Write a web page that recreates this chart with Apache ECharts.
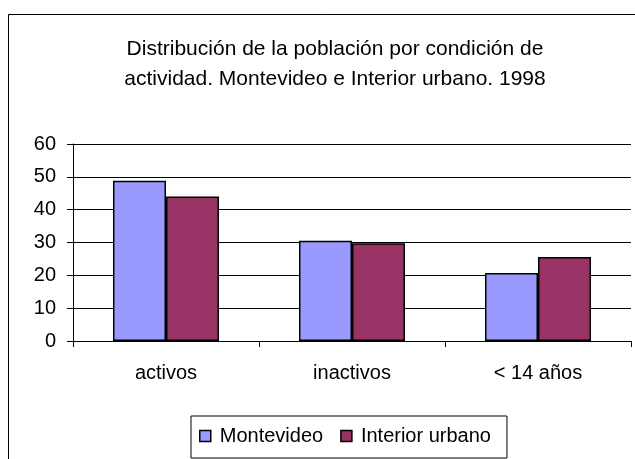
<!DOCTYPE html>
<html>
<head>
<meta charset="utf-8">
<script src="https://cdn.jsdelivr.net/npm/echarts@6/dist/echarts.min.js"></script>
<style>
  html, body { margin: 0; padding: 0; background: #fff; }
  #chart { width: 635px; height: 459px; }
</style>
</head>
<body>
<div id="chart"></div>
<script>
const categories = ["activos", "inactivos", "< 14 años"];
const montevideo = [48.8, 30.5, 20.7];
const interior = [44.0, 29.8, 25.6];
const yTicks = { min: 0, max: 60, interval: 10 };

const chart = echarts.init(document.getElementById("chart"));
const font = "Liberation Sans, Arial, sans-serif";

const option = {
  animation: false,
  backgroundColor: "#fff",
  textStyle: { fontFamily: font },
  title: {
    text: "Distribución de la población por condición de\nactividad. Montevideo e Interior urbano. 1998",
    left: 330,
    top: 29,
    textAlign: "center",
    textStyle: { fontSize: 21, fontWeight: "normal", color: "#000", lineHeight: 30, fontFamily: font },
  },
  graphic: [
    {
      type: "rect",
      shape: { x: 8.5, y: 14.5, width: 700, height: 500 },
      style: { fill: null, stroke: "#000", lineWidth: 1 },
      silent: true,
      z: -1,
    },
  ],
  legend: {
    top: 416,
    left: 191,
    data: ["Montevideo", "Interior urbano"],
    itemWidth: 11,
    itemHeight: 11,
    itemGap: 17,
    padding: [10, 16, 12, 8],
    borderColor: "#000",
    borderWidth: 1,
    textStyle: { fontSize: 20, color: "#000", fontFamily: font, padding: [0, 0, 0, 4] },
    icon: "rect",
    itemStyle: { borderColor: "#000", borderWidth: 1.5 },
  },
  grid: {
    left: 73,
    right: 4,
    top: 144,
    bottom: 459 - 341,
    containLabel: false,
  },
  xAxis: {
    type: "category",
    data: categories,
    axisLine: { lineStyle: { color: "#000", width: 1 } },
    axisTick: { show: true, alignWithLabel: false, length: 6, lineStyle: { color: "#000" } },
    axisLabel: { color: "#000", fontSize: 20, margin: 22, fontFamily: font },
  },
  yAxis: {
    type: "value",
    min: yTicks.min,
    max: yTicks.max,
    interval: yTicks.interval,
    axisLine: { show: true, lineStyle: { color: "#000", width: 1 } },
    axisTick: { show: true, length: 6, lineStyle: { color: "#000" } },
    axisLabel: { color: "#000", fontSize: 20, margin: 17, fontFamily: font },
    splitLine: { show: true, lineStyle: { color: "#000", width: 1 } },
  },
  series: [
    {
      name: "Montevideo",
      type: "bar",
      data: montevideo,
      barGap: "0%",
      barCategoryGap: "43%",
      itemStyle: { color: "#9999FF", borderColor: "#000", borderWidth: 1.5 },
    },
    {
      name: "Interior urbano",
      type: "bar",
      data: interior,
      itemStyle: { color: "#993366", borderColor: "#000", borderWidth: 1.5 },
    },
  ],
};

chart.setOption(option);
</script>
</body>
</html>
